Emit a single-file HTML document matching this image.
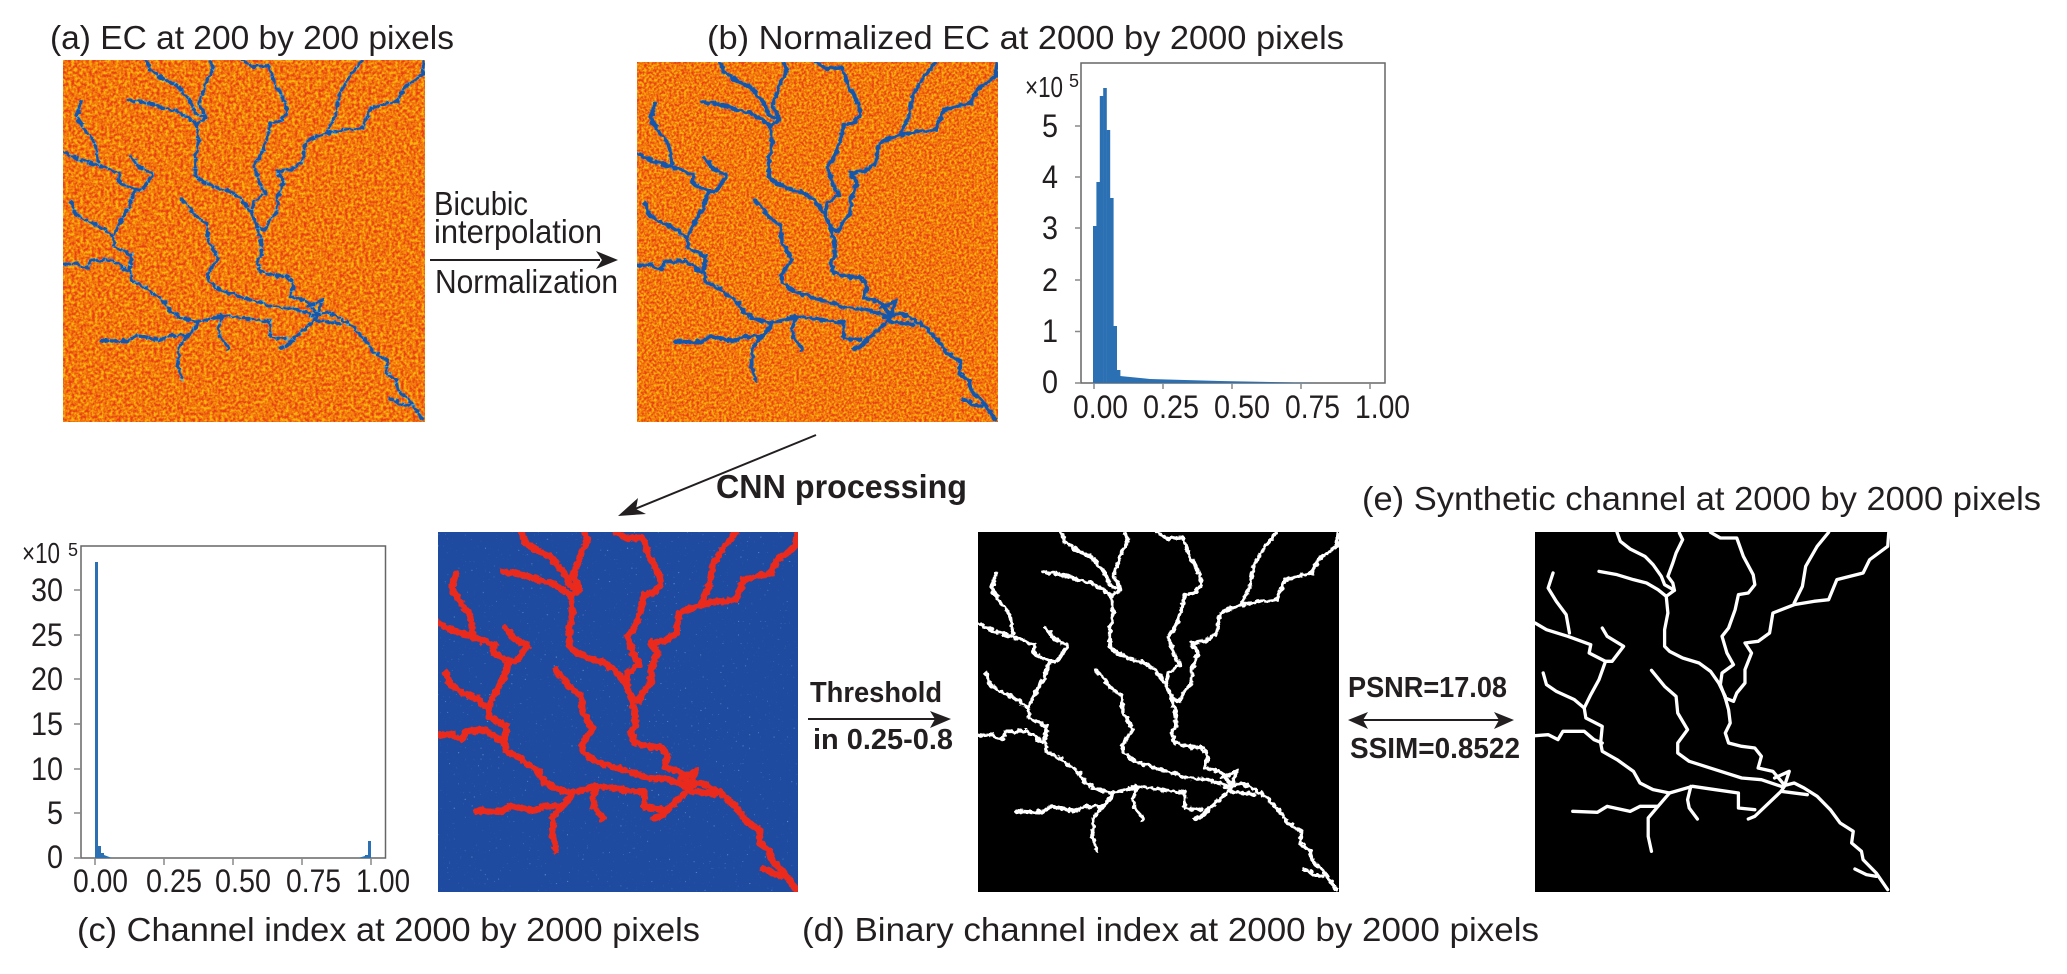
<!DOCTYPE html>
<html><head><meta charset="utf-8"><style>
html,body{margin:0;padding:0;background:#fff}
svg{display:block}
text{font-family:"Liberation Sans",sans-serif;fill:#231f20}
</style></head><body>
<svg xmlns="http://www.w3.org/2000/svg" width="2067" height="974" viewBox="0 0 2067 974">
<defs>
<filter id="n1" x="0" y="0" width="100%" height="100%" color-interpolation-filters="sRGB">
<feTurbulence type="fractalNoise" baseFrequency="0.34" numOctaves="2" seed="4"/>
<feColorMatrix values="2.4 0 0 0 -0.7 2.4 0 0 0 -0.7 2.4 0 0 0 -0.7 0 0 0 0 1"/>
<feComponentTransfer>
<feFuncR type="table" tableValues="0.91 0.93 0.95 0.97 0.99"/>
<feFuncG type="table" tableValues="0.24 0.36 0.47 0.58 0.72"/>
<feFuncB type="table" tableValues="0.09 0.07 0.05 0.05 0.06"/>
</feComponentTransfer>
</filter>
<filter id="n2" x="0" y="0" width="100%" height="100%" color-interpolation-filters="sRGB">
<feTurbulence type="fractalNoise" baseFrequency="0.4" numOctaves="2" seed="9"/>
<feColorMatrix values="2.4 0 0 0 -0.7 2.4 0 0 0 -0.7 2.4 0 0 0 -0.7 0 0 0 0 1"/>
<feComponentTransfer>
<feFuncR type="table" tableValues="0.91 0.93 0.95 0.97 0.99"/>
<feFuncG type="table" tableValues="0.24 0.36 0.47 0.58 0.72"/>
<feFuncB type="table" tableValues="0.09 0.07 0.05 0.05 0.06"/>
</feComponentTransfer>
</filter>
<filter id="dots" x="0" y="0" width="100%" height="100%" color-interpolation-filters="sRGB">
<feTurbulence type="fractalNoise" baseFrequency="0.45" numOctaves="1" seed="3"/>
<feColorMatrix values="0 0 0 0 .42 0 0 0 0 .62 0 0 0 0 .85 7 0 0 0 -5"/>
</filter>
<filter id="jag" x="-3%" y="-3%" width="106%" height="106%">
<feTurbulence type="fractalNoise" baseFrequency="0.07" numOctaves="2" seed="7" result="t"/>
<feDisplacementMap in="SourceGraphic" in2="t" scale="16" xChannelSelector="R" yChannelSelector="G"/>
</filter>
<g id="r" fill="none" stroke-linejoin="round" stroke-linecap="round">
<polyline points="260,8 270,35 300,58 345,80 370,105 395,140 405,165 435,182"/>
<polyline points="450,10 460,30 440,70 430,100 415,140 430,160 435,182 410,200"/>
<polyline points="205,125 260,135 310,150 350,160 385,180 410,200 415,250 405,300 405,350 420,365 460,385 510,400 545,425 570,460 590,500"/>
<polyline points="545,8 575,25 625,25 645,80 675,135 680,165 660,190 630,195 620,240 600,295 580,320 595,370 615,405 580,430 575,465 590,505 600,540 605,580 590,610 600,640 640,650 680,655 700,680 690,715 735,725 765,760"/>
<polyline points="905,8 870,50 835,110 825,170 800,220"/>
<polyline points="1088,10 1085,50 1030,90 1010,130 930,150 905,210 860,215 800,225 735,250 725,310 690,335 650,340 670,370 650,420 650,460 625,490 615,515 590,505"/>
<polyline points="10,280 45,300 110,320 180,345 175,370 225,395 205,450 180,495 160,535 165,565 215,590 210,640 215,665 260,690 310,725 330,760 370,780 420,790 490,770 560,780 630,790 630,835 680,840"/>
<polyline points="760,785 680,860 660,868"/>
<polyline points="65,130 50,175 75,215 105,255 115,310"/>
<polyline points="215,295 230,320 280,350 245,395 225,395"/>
<polyline points="35,430 45,465 75,485 130,510 160,535"/>
<polyline points="10,618 50,615 80,630 95,605 160,605 190,630 215,640"/>
<polyline points="365,422 405,470 440,500 445,550 475,600 445,640 445,670 480,695 560,720 640,745 700,750 760,770 800,760 830,775 870,800 910,840 940,880 980,905 975,940 1005,965 1010,990 1050,1030 1085,1080"/>
<polyline points="740,745 785,725 770,770 760,785 840,795"/>
<polyline points="125,845 200,848 230,830 300,845 330,830 385,830 420,790"/>
<polyline points="385,830 355,865 355,920 365,965"/>
<polyline points="485,770 475,810 480,835 505,868"/>
<polyline points="1050,1040 1020,1035 985,1018"/>
</g>
</defs>

<rect width="2067" height="974" fill="#fff"/>

<!-- panel a -->
<svg x="63" y="60" width="362" height="362">
<rect width="362" height="362" filter="url(#n1)"/>
<svg width="362" height="362" viewBox="10 7 1082 1082">
<g filter="url(#jag)">
<use href="#r" stroke="#5cb4d8" stroke-width="10"/>
<use href="#r" stroke="#1655a8" stroke-width="9" stroke-dasharray="20 10"/>
</g></svg></svg>

<!-- panel b -->
<svg x="637" y="62" width="361" height="360">
<rect width="361" height="360" filter="url(#n2)"/>
<svg width="361" height="360" viewBox="10 7 1082 1080" preserveAspectRatio="none">
<g filter="url(#jag)">
<use href="#r" stroke="#5cb4d8" stroke-width="12"/>
<use href="#r" stroke="#1655a8" stroke-width="11" stroke-dasharray="40 6"/>
</g></svg></svg>

<!-- panel c -->
<svg x="438" y="532" width="360" height="360">
<rect width="360" height="360" fill="#1e4b9f"/>
<rect width="360" height="360" filter="url(#dots)"/>
<svg width="360" height="360" viewBox="10 7 1082 1082">
<use href="#r" stroke="#e92a1e" stroke-width="20" filter="url(#jag)"/>
</svg></svg>

<!-- panel d -->
<svg x="978" y="532" width="361" height="360">
<rect width="361" height="360" fill="#000"/>
<svg width="361" height="360" viewBox="10 7 1082 1080" preserveAspectRatio="none">
<use href="#r" stroke="#fff" stroke-width="11" filter="url(#jag)"/>
</svg></svg>

<!-- panel e -->
<svg x="1535" y="532" width="355" height="360">
<rect width="355" height="360" fill="#000"/>
<svg width="355" height="360" viewBox="10 7 1082 1080" preserveAspectRatio="none">
<use href="#r" stroke="#fff" stroke-width="10"/>
</svg></svg>

<!-- histogram b -->
<g>
<rect x="1081" y="63" width="304" height="320" fill="#fff" stroke="#666" stroke-width="1.5"/>
<g fill="#2a70b2">
<rect x="1093" y="226" width="3.6" height="157"/>
<rect x="1096.4" y="182" width="3.6" height="201"/>
<rect x="1099.8" y="96" width="3.6" height="287"/>
<rect x="1103.2" y="88" width="3.6" height="295"/>
<rect x="1106.6" y="130" width="3.6" height="253"/>
<rect x="1110" y="198" width="3.6" height="185"/>
<rect x="1113.4" y="326" width="3.6" height="57"/>
<rect x="1116.8" y="370" width="3.6" height="13"/>
<polygon points="1120,376 1150,379 1220,381 1320,383 1120,383"/>
</g>
<path d="M1075 126h6M1075 177h6M1075 228h6M1075 280h6M1075 331.500h6M1075 383h6M1094 383v6M1163 383v6M1232 383v6M1301 383v6M1370 383v6" stroke="#888" stroke-width="1.5" fill="none"/>
<text x="1025" y="97" font-size="29" textLength="38" lengthAdjust="spacingAndGlyphs">×10</text>
<text x="1069" y="87" font-size="18">5</text>
<g font-size="32">
<text x="1042" y="137" textLength="16" lengthAdjust="spacingAndGlyphs">5</text>
<text x="1042" y="188" textLength="16" lengthAdjust="spacingAndGlyphs">4</text>
<text x="1042" y="239" textLength="16" lengthAdjust="spacingAndGlyphs">3</text>
<text x="1042" y="291" textLength="16" lengthAdjust="spacingAndGlyphs">2</text>
<text x="1042" y="342" textLength="16" lengthAdjust="spacingAndGlyphs">1</text>
<text x="1042" y="393" textLength="16" lengthAdjust="spacingAndGlyphs">0</text>
<text x="1073" y="418" textLength="55" lengthAdjust="spacingAndGlyphs">0.00</text>
<text x="1143" y="418" textLength="56" lengthAdjust="spacingAndGlyphs">0.25</text>
<text x="1214" y="418" textLength="56" lengthAdjust="spacingAndGlyphs">0.50</text>
<text x="1285" y="418" textLength="55" lengthAdjust="spacingAndGlyphs">0.75</text>
<text x="1355" y="418" textLength="55" lengthAdjust="spacingAndGlyphs">1.00</text>
</g>
</g>

<!-- histogram c -->
<g>
<rect x="81" y="546" width="304.500" height="312" fill="#fff" stroke="#666" stroke-width="1.5"/>
<g fill="#2a70b2">
<rect x="95" y="562" width="3" height="296"/>
<rect x="98" y="846" width="3" height="12"/>
<rect x="101" y="853" width="3" height="5"/>
<polygon points="104,855 112,858 104,858"/>
<rect x="368" y="841" width="3" height="17"/>
<rect x="365" y="855" width="3" height="3"/>
<polygon points="358,858 365,856 365,858"/>
</g>
<path d="M74 590h7M74 635h7M74 679h7M74 724h7M74 769h7M74 813h7M74 858h7M95 858v7M164 858v7M233 858v7M302 858v7M371 858v7" stroke="#888" stroke-width="1.5" fill="none"/>
<text x="22" y="563" font-size="29" textLength="38" lengthAdjust="spacingAndGlyphs">×10</text>
<text x="68" y="556" font-size="18">5</text>
<g font-size="32">
<text x="31" y="601" textLength="32" lengthAdjust="spacingAndGlyphs">30</text>
<text x="31" y="646" textLength="32" lengthAdjust="spacingAndGlyphs">25</text>
<text x="31" y="690" textLength="32" lengthAdjust="spacingAndGlyphs">20</text>
<text x="31" y="735" textLength="32" lengthAdjust="spacingAndGlyphs">15</text>
<text x="31" y="780" textLength="32" lengthAdjust="spacingAndGlyphs">10</text>
<text x="47" y="824" textLength="16" lengthAdjust="spacingAndGlyphs">5</text>
<text x="47" y="868" textLength="16" lengthAdjust="spacingAndGlyphs">0</text>
<text x="73" y="892" textLength="55" lengthAdjust="spacingAndGlyphs">0.00</text>
<text x="146" y="892" textLength="56" lengthAdjust="spacingAndGlyphs">0.25</text>
<text x="215" y="892" textLength="56" lengthAdjust="spacingAndGlyphs">0.50</text>
<text x="286" y="892" textLength="55" lengthAdjust="spacingAndGlyphs">0.75</text>
<text x="356" y="892" textLength="54" lengthAdjust="spacingAndGlyphs">1.00</text>
</g>
</g>

<!-- titles -->
<g font-size="33">
<text x="50" y="49" textLength="404" lengthAdjust="spacingAndGlyphs">(a) EC at 200 by 200 pixels</text>
<text x="707" y="49" textLength="637" lengthAdjust="spacingAndGlyphs">(b) Normalized EC at 2000 by 2000 pixels</text>
<text x="1362" y="510" textLength="679" lengthAdjust="spacingAndGlyphs">(e) Synthetic channel at 2000 by 2000 pixels</text>
<text x="77" y="941" textLength="623" lengthAdjust="spacingAndGlyphs">(c) Channel index at 2000 by 2000 pixels</text>
<text x="802" y="941" textLength="737" lengthAdjust="spacingAndGlyphs">(d) Binary channel index at 2000 by 2000 pixels</text>
<text x="434" y="215" textLength="94" lengthAdjust="spacingAndGlyphs">Bicubic</text>
<text x="434" y="243" textLength="168" lengthAdjust="spacingAndGlyphs">interpolation</text>
<text x="435" y="293" textLength="183" lengthAdjust="spacingAndGlyphs">Normalization</text>
</g>
<g font-weight="bold">
<text x="716" y="498" font-size="33" textLength="251" lengthAdjust="spacingAndGlyphs">CNN processing</text>
<text x="810" y="702" font-size="29" textLength="132" lengthAdjust="spacingAndGlyphs">Threshold</text>
<text x="813" y="749" font-size="29" textLength="140" lengthAdjust="spacingAndGlyphs">in 0.25-0.8</text>
<text x="1348" y="697" font-size="29" textLength="159" lengthAdjust="spacingAndGlyphs">PSNR=17.08</text>
<text x="1350" y="758" font-size="29" textLength="170" lengthAdjust="spacingAndGlyphs">SSIM=0.8522</text>
</g>

<!-- arrows -->
<g stroke="#231f20" stroke-width="2" fill="#231f20">
<line x1="430" y1="260" x2="600" y2="260"/>
<polygon stroke="none" points="618,260 596,251 602,260 596,269"/>
<line x1="816" y1="435" x2="630" y2="511"/>
<polygon stroke="none" points="618,516 638,498 636,509 646,514"/>
<line x1="808" y1="719" x2="935" y2="719"/>
<polygon stroke="none" points="951,719 930,711 935,719 930,728"/>
<line x1="1360" y1="720" x2="1502" y2="720"/>
<polygon stroke="none" points="1348,720 1368,712 1363,720 1368,729"/>
<polygon stroke="none" points="1514,720 1494,712 1499,720 1494,729"/>
</g>
</svg>
</body></html>
